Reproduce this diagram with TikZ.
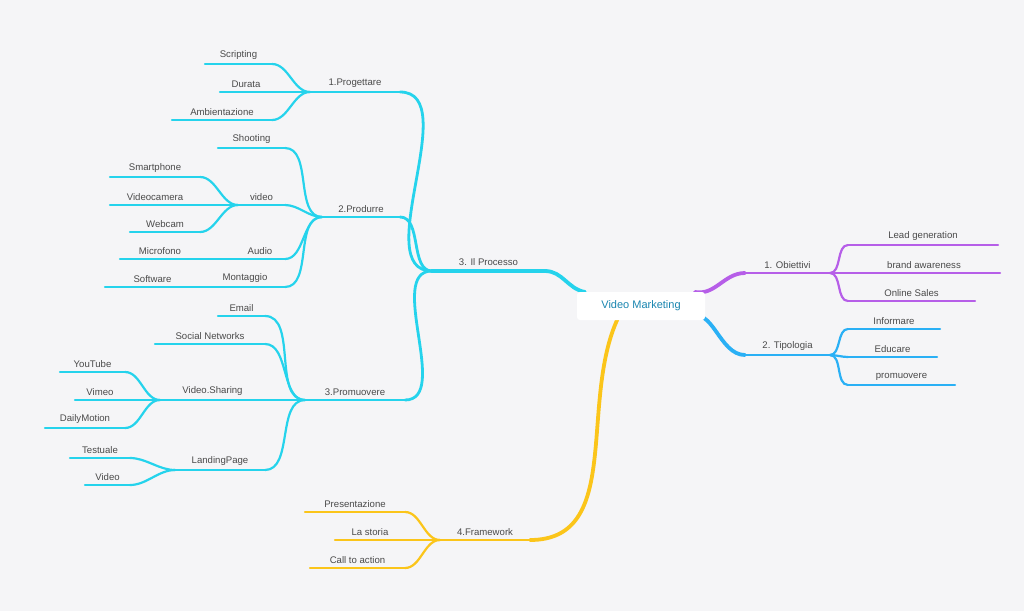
\documentclass[tikz,border=0pt]{standalone}
\usepackage{fontspec}
\setmainfont{Liberation Sans}
\definecolor{bg}{HTML}{F5F5F7}
\definecolor{cy}{HTML}{25D3EC}
\definecolor{pu}{HTML}{B65EE8}
\definecolor{bl}{HTML}{2AB0F5}
\definecolor{ye}{HTML}{FBC51A}
\definecolor{tx}{HTML}{4A4A4A}
\definecolor{tl}{HTML}{1A86B0}
\tikzset{txt/.style={font=\fontsize{9.6}{11}\selectfont,text=tx,inner sep=1pt,yshift=2.5pt},
 lv2/.style={line width=2.2pt},lv1/.style={line width=2.8pt},lv0/.style={line width=3.8pt},
 cur/.style={out=0,in=180,looseness=0.9}}
\newcommand\lf[7]{\draw[#6,#7,line cap=round] (#3,#5) coordinate (#1-l) -- node[above,txt] (#1) {#2} (#4,#5) coordinate (#1-r);}
\begin{document}
\begin{tikzpicture}[x=1pt,y=-1pt]
\fill[bg] (0,0) rectangle (1024,611);
\useasboundingbox (0,0) rectangle (1024,611);
% right
\lf{obi}{1. Obiettivi}{745}{830}{273}{pu}{lv1}
\lf{lead}{Lead generation}{848}{998}{245}{pu}{lv2}
\lf{brand}{brand awareness}{848}{1000}{273}{pu}{lv2}
\lf{onl}{Online Sales}{848}{975}{301}{pu}{lv2}
\lf{tip}{2. Tipologia}{745}{830}{355}{bl}{lv1}
\lf{inf}{Informare}{848}{940}{329}{bl}{lv2}
\lf{edu}{Educare}{848}{937}{357}{bl}{lv2}
\lf{pro}{promuovere}{848}{955}{385}{bl}{lv2}
% framework
\lf{fw}{4.Framework}{440}{530}{540}{ye}{lv1}
\lf{pres}{Presentazione}{305}{405}{512}{ye}{lv2}
\lf{sto}{La storia}{335}{405}{540}{ye}{lv2}
\lf{cta}{Call to action}{310}{405}{568}{ye}{lv2}
% processo
\lf{proc}{3. Il Processo}{432}{545}{271}{cy}{lv0}
\lf{prog}{1.Progettare}{310}{400}{92}{cy}{lv1}
\lf{prod}{2.Produrre}{322}{400}{217}{cy}{lv1}
\lf{prom}{3.Promuovere}{305}{405}{400}{cy}{lv1}
\lf{scr}{Scripting}{205}{272}{64}{cy}{lv2}
\lf{dur}{Durata}{220}{272}{92}{cy}{lv2}
\lf{amb}{Ambientazione}{172}{272}{120}{cy}{lv2}
\lf{sho}{Shooting}{218}{285}{148}{cy}{lv2}
\lf{vid}{video}{238}{285}{205}{cy}{lv2}
\lf{aud}{Audio}{235}{285}{259}{cy}{lv2}
\lf{mon}{Montaggio}{205}{285}{287}{cy}{lv2}
\lf{sma}{Smartphone}{110}{200}{177}{cy}{lv2}
\lf{vca}{Videocamera}{110}{200}{205}{cy}{lv2}
\lf{web}{Webcam}{130}{200}{232}{cy}{lv2}
\lf{mic}{Microfono}{120}{200}{259}{cy}{lv2}
\lf{sof}{Software}{105}{200}{287}{cy}{lv2}
\lf{ema}{Email}{218}{265}{316}{cy}{lv2}
\lf{soc}{Social Networks}{155}{265}{344}{cy}{lv2}
\lf{vsh}{Video.Sharing}{160}{265}{400}{cy}{lv2}
\lf{lan}{LandingPage}{175}{265}{470}{cy}{lv2}
\lf{yt}{YouTube}{60}{125}{372}{cy}{lv2}
\lf{vim}{Vimeo}{75}{125}{400}{cy}{lv2}
\lf{dm}{DailyMotion}{45}{125}{428}{cy}{lv2}
\lf{tes}{Testuale}{70}{130}{458}{cy}{lv2}
\lf{vv}{Video}{85}{130}{485}{cy}{lv2}
% connectors
\begin{scope}[line cap=round]
\foreach \c in {lead,brand,onl} \draw[pu,lv2] (obi-r) to[cur] (\c-l);
\foreach \c in {inf,edu,pro} \draw[bl,lv2] (tip-r) to[cur] (\c-l);
\foreach \c in {pres,sto,cta} \draw[ye,lv2] (\c-r) to[cur] (fw-l);
\foreach \c in {prog,prod,prom} \draw[cy,lv1] (\c-r) to[cur] (proc-l);
\foreach \c in {scr,dur,amb} \draw[cy,lv2] (\c-r) to[cur] (prog-l);
\foreach \c in {sho,vid,aud,mon} \draw[cy,lv2] (\c-r) to[cur] (prod-l);
\foreach \c in {sma,vca,web} \draw[cy,lv2] (\c-r) to[cur] (vid-l);
\draw[cy,lv2] (mic-r) -- (aud-l);
\draw[cy,lv2] (sof-r) -- (mon-l);
\foreach \c in {ema,soc,vsh,lan} \draw[cy,lv2] (\c-r) to[cur] (prom-l);
\foreach \c in {yt,vim,dm} \draw[cy,lv2] (\c-r) to[cur] (vsh-l);
\foreach \c in {tes,vv} \draw[cy,lv2] (\c-r) to[cur] (lan-l);
\coordinate (cpu) at (695,292);
\coordinate (cbl) at (690,318);
\coordinate (cye) at (618,318);
\coordinate (ccy) at (585,292);
\draw[pu,lv0] (cpu) to[out=-10,in=180] (obi-l);
\draw[bl,lv0] (cbl) to[out=30,in=180] (tip-l);
\draw[ye,lv0] (cye) to[out=245,in=0] (fw-r);
\draw[cy,lv0] (ccy) to[out=170,in=0] (proc-r);
\end{scope}
\node[fill=white,rounded corners=3pt,minimum width=128pt,minimum height=28pt,font=\fontsize{11}{13}\selectfont,text=tl] (vm) at (641,306) {Video Marketing};
\end{tikzpicture}
\end{document}
